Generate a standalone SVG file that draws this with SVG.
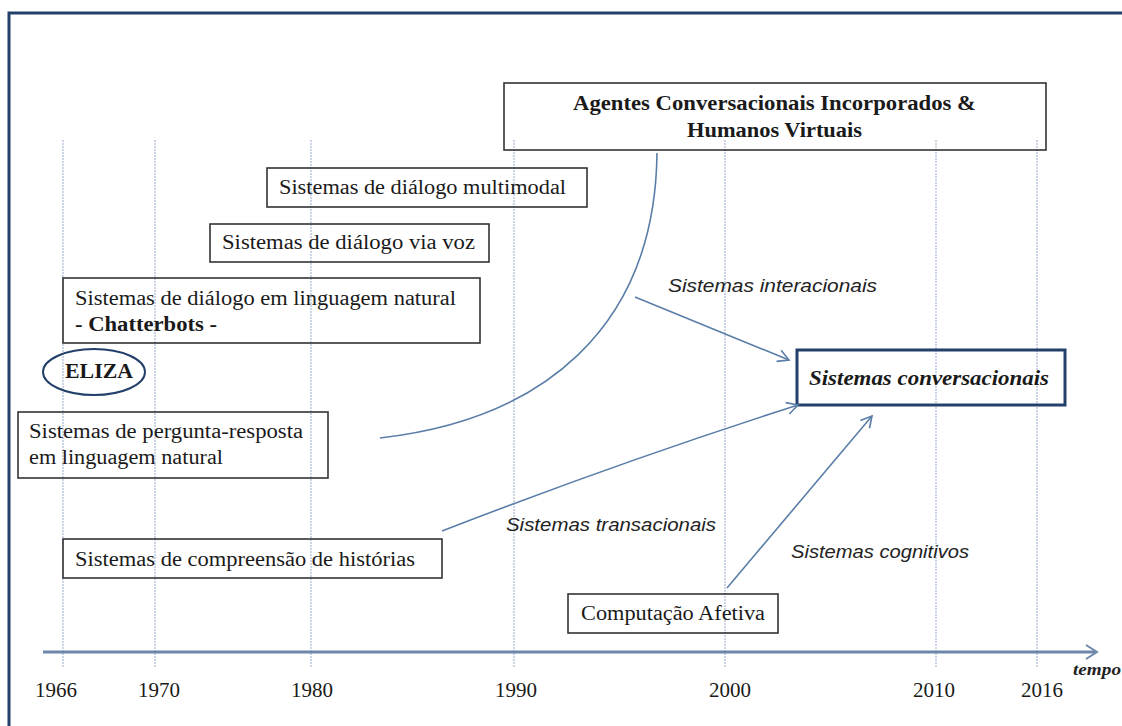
<svg xmlns="http://www.w3.org/2000/svg" width="1122" height="726" viewBox="0 0 1122 726">
<defs>
<marker id="arr" markerWidth="14" markerHeight="14" refX="12" refY="7" orient="auto" markerUnits="userSpaceOnUse">
<path d="M1,1 L12,7 L1,13" fill="none" stroke="#5b7ea8" stroke-width="1.6"/>
</marker>
<style>
.grid{stroke:#a9b9d6;stroke-width:1.2;stroke-dasharray:2,1}
.box{fill:none;stroke:#333;stroke-width:1.6}
.t{font-family:"Liberation Serif","Times New Roman",serif;font-size:20px;fill:#1a1a1a}
.b{font-weight:bold}
.lab{font-family:"Liberation Sans",Arial,sans-serif;font-style:italic;font-size:19px;fill:#222}
.yr{font-family:"Liberation Serif","Times New Roman",serif;font-size:21px;fill:#1a1a1a;text-anchor:middle}
.conn{fill:none;stroke:#5b7ea8;stroke-width:1.6}
</style>
</defs>
<rect width="1122" height="726" fill="#fff"/>
<path d="M9,726 V13 H1122" fill="none" stroke="#23406a" stroke-width="3"/>
<g id="grid">
<line class="grid" x1="63" y1="140" x2="63" y2="668"/>
<line class="grid" x1="155" y1="140" x2="155" y2="668"/>
<line class="grid" x1="311" y1="140" x2="311" y2="668"/>
<line class="grid" x1="514" y1="140" x2="514" y2="668"/>
<line class="grid" x1="725" y1="140" x2="725" y2="668"/>
<line class="grid" x1="936" y1="140" x2="936" y2="668"/>
<line class="grid" x1="1037" y1="140" x2="1037" y2="668"/>
</g>
<g id="axis">
<line x1="43" y1="652" x2="1095" y2="652" stroke="#6d87aa" stroke-width="3"/>
<path d="M1086,645 L1097,652 L1086,659" fill="none" stroke="#6d87aa" stroke-width="2"/>
<text x="1073" y="675" font-family="Liberation Serif, serif" font-style="italic" font-weight="bold" font-size="17" fill="#222" textLength="48" lengthAdjust="spacingAndGlyphs">tempo</text>
<text class="yr" x="56" y="697">1966</text>
<text class="yr" x="159" y="697">1970</text>
<text class="yr" x="312" y="697">1980</text>
<text class="yr" x="516" y="697">1990</text>
<text class="yr" x="730" y="697">2000</text>
<text class="yr" x="934" y="697">2010</text>
<text class="yr" x="1042" y="697">2016</text>
</g>
<g id="node-agentes">
<rect class="box" x="504" y="83" width="542" height="67"/>
<text class="t b" x="573" y="110" textLength="403" lengthAdjust="spacingAndGlyphs">Agentes Conversacionais Incorporados &amp;</text>
<text class="t b" x="687" y="137" textLength="175" lengthAdjust="spacingAndGlyphs">Humanos Virtuais</text>
</g>
<g id="node-multimodal">
<rect class="box" x="267" y="168" width="320" height="39"/>
<text class="t" x="279" y="194" textLength="287" lengthAdjust="spacingAndGlyphs">Sistemas de diálogo multimodal</text>
</g>
<g id="node-voz">
<rect class="box" x="210" y="224" width="279" height="38"/>
<text class="t" x="222" y="249" textLength="253" lengthAdjust="spacingAndGlyphs">Sistemas de diálogo via voz</text>
</g>
<g id="node-linguagem">
<rect class="box" x="63" y="278" width="417" height="65"/>
<text class="t" x="75" y="305" textLength="381" lengthAdjust="spacingAndGlyphs">Sistemas de diálogo em linguagem  natural</text>
<text class="t b" x="75" y="331" textLength="142" lengthAdjust="spacingAndGlyphs">- Chatterbots -</text>
</g>
<g id="node-eliza">
<ellipse cx="94" cy="372" rx="51" ry="23" fill="none" stroke="#23406a" stroke-width="2"/>
<text class="t b" x="99" y="378" text-anchor="middle" textLength="68" lengthAdjust="spacingAndGlyphs">ELIZA</text>
</g>
<g id="node-pergunta">
<rect class="box" x="18" y="412" width="310" height="66"/>
<text class="t" x="29" y="438" textLength="274" lengthAdjust="spacingAndGlyphs">Sistemas de pergunta-resposta</text>
<text class="t" x="29" y="464" textLength="194" lengthAdjust="spacingAndGlyphs">em linguagem  natural</text>
</g>
<g id="node-historias">
<rect class="box" x="63" y="539" width="379" height="39"/>
<text class="t" x="75" y="566" textLength="340" lengthAdjust="spacingAndGlyphs">Sistemas de compreensão de histórias</text>
</g>
<g id="node-afetiva">
<rect class="box" x="568" y="594" width="210" height="39"/>
<text class="t" x="581" y="620" textLength="184" lengthAdjust="spacingAndGlyphs">Computação Afetiva</text>
</g>
<g id="node-conversacionais">
<rect x="797" y="350" width="268" height="55" fill="none" stroke="#23406a" stroke-width="3"/>
<text class="t b" font-style="italic" x="809" y="385" textLength="240" lengthAdjust="spacingAndGlyphs">Sistemas conversacionais</text>
</g>
<g id="connectors">
<path class="conn" d="M657,153 C655,330 540,420 380,438"/>
<line class="conn" x1="635" y1="297" x2="789" y2="360" marker-end="url(#arr)"/>
<path class="conn" d="M442,531 Q620,462 798,405" marker-end="url(#arr)"/>
<line class="conn" x1="727" y1="588" x2="872" y2="416" marker-end="url(#arr)"/>
</g>
<g id="labels">
<text class="lab" x="668" y="292" textLength="209" lengthAdjust="spacingAndGlyphs">Sistemas interacionais</text>
<text class="lab" x="506" y="531" textLength="210" lengthAdjust="spacingAndGlyphs">Sistemas transacionais</text>
<text class="lab" x="791" y="558" textLength="178" lengthAdjust="spacingAndGlyphs">Sistemas cognitivos</text>
</g>
</svg>
